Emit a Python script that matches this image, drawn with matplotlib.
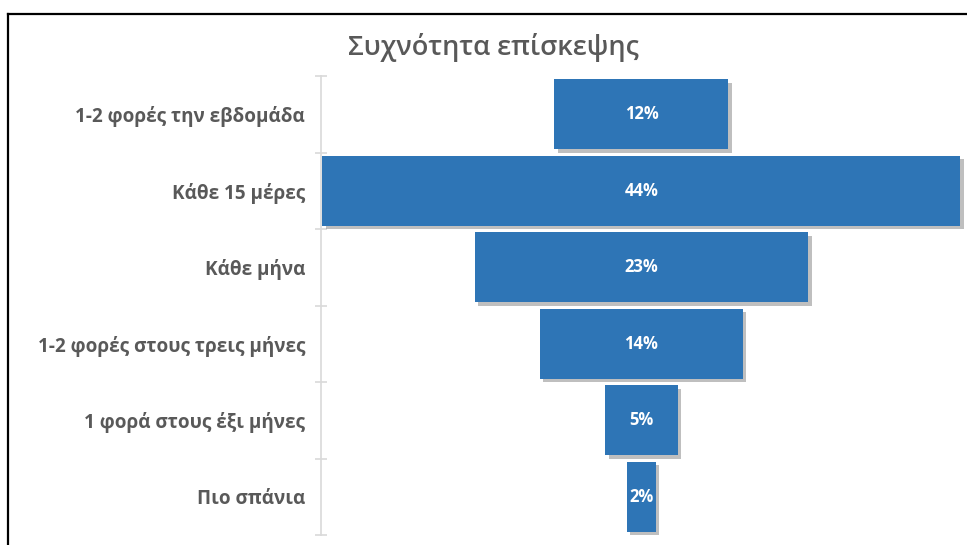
import matplotlib
matplotlib.use("Agg")
import matplotlib.pyplot as plt
import matplotlib.patheffects as pe
from matplotlib.lines import Line2D

plt.rcParams['font.family'] = ['Open Sans', 'DejaVu Sans']

categories = ['1-2 φορές την εβδομάδα', 'Κάθε 15 μέρες', 'Κάθε μήνα',
              '1-2 φορές στους τρεις μήνες', '1 φορά στους έξι μήνες', 'Πιο σπάνια']
values = [12, 44, 23, 14, 5, 2]
labels = ['12%', '44%', '23%', '14%', '5%', '2%']

W, H = 967, 545
fig = plt.figure(figsize=(W / 100, H / 100), dpi=100)
ax = fig.add_axes([321 / W, 1 - 535 / H, 1 - 321 / W, (535 - 76) / H])

blue = '#2E75B6'
grey = '#595959'
ypos = list(range(len(values)))
lefts = [-v / 2 for v in values]
bars = ax.barh(ypos, values, left=lefts, height=0.91, color=blue, zorder=3)
for b in bars:
    b.set_path_effects([pe.SimplePatchShadow(offset=(2.5, -2.5), shadow_rgbFace='#808080', alpha=0.5),
                        pe.Normal()])

for y, lab in zip(ypos, labels):
    ax.text(0, y, lab, color='white', fontsize=12, fontweight='bold',
            ha='center', va='center', zorder=4)

ax.set_xlim(-22.1, 22.45)
ax.set_ylim(5.5, -0.5)

for s in ['top', 'right', 'bottom']:
    ax.spines[s].set_visible(False)
ax.spines['left'].set_color('#D9D9D9')
ax.spines['left'].set_linewidth(1.2)
ax.set_xticks([])
ax.set_yticks(ypos)
ax.set_yticklabels(categories, fontsize=13.6, fontweight='bold', color=grey)
ax.tick_params(axis='y', which='major', length=0, pad=11.5)
ax.set_yticks([i - 0.5 for i in range(len(values) + 1)], minor=True)
ax.tick_params(axis='y', which='minor', length=9, direction='inout', color='#D9D9D9', width=1.2)

fig.text(493 / W, 1 - 47 / H, 'Συχνότητα επίσκεψης', fontsize=19.5, color=grey,
         fontweight='semibold', ha='center', va='center')

# outer frame (top and left edges visible)
fig.add_artist(Line2D([8 / W, 8 / W], [0, 1 - 14 / H], color='black', lw=1.6, transform=fig.transFigure))
fig.add_artist(Line2D([8 / W, 1], [1 - 14 / H, 1 - 14 / H], color='black', lw=1.6, transform=fig.transFigure))

fig.savefig('out.png', dpi=100)
